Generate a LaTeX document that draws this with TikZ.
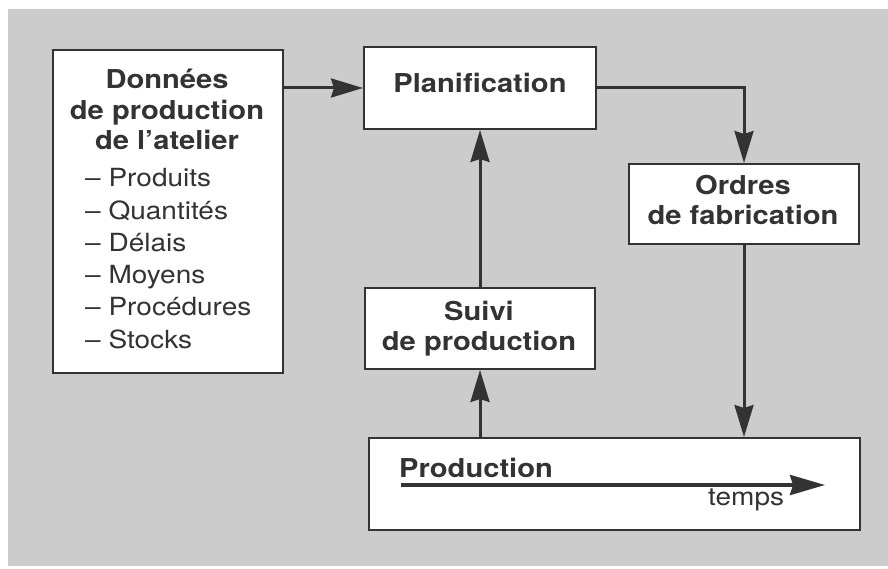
\documentclass[tikz,border=0pt]{standalone}
\usepackage{fontspec}
\setmainfont{TeX Gyre Heros}[FakeStretch=1.12]
\usetikzlibrary{arrows.meta}
\definecolor{ink}{rgb}{0.2,0.2,0.2}
\definecolor{bggrey}{rgb}{0.80,0.80,0.80}
\begin{document}
\begin{tikzpicture}[x=1pt,y=-1pt,
  box/.style={draw=ink, line width=2pt, fill=white, inner sep=0pt, anchor=north west},
  conn/.style={draw=ink, line width=3pt, -{Stealth[length=32pt,width=19pt,inset=3pt]}},
  titletext/.style={font=\fontsize{26}{30}\selectfont\bfseries, text=ink, inner sep=0pt, anchor=base},
  listtext/.style={font=\fontsize{25}{30}\selectfont, text=ink, inner sep=0pt, anchor=base west}]
\useasboundingbox (0,0) rectangle (888,569);
\fill[bggrey] (8,9) rectangle (888,566);
% boxes
\node[box, minimum width=230pt, minimum height=323pt] (data) at (52,49) {};
\node[box, minimum width=232pt, minimum height=82pt] (plan) at (363,46) {};
\node[box, minimum width=230pt, minimum height=80pt] (ordres) at (628,163) {};
\node[box, minimum width=230pt, minimum height=81pt] (suivi) at (364,287) {};
\node[box, minimum width=491pt, minimum height=92pt] (prod) at (368,437) {};
% texts
\node[titletext] (d1) at (167,89) {Données};
\node[titletext] (d2) at (167,120) {de production};
\node[titletext] (d3) at (167,150) {de l’atelier};
\node[listtext] (l1) at (85,187) {– Produits};
\node[listtext] (l2) at (85,219.2) {– Quantités};
\node[listtext] (l3) at (85,251.4) {– Délais};
\node[listtext] (l4) at (85,283.6) {– Moyens};
\node[listtext] (l5) at (85,315.8) {– Procédures};
\node[listtext] (l6) at (85,348) {– Stocks};
\node[titletext] (p1) at (480,93) {Planification};
\node[titletext] (o1) at (743,195) {Ordres};
\node[titletext] (o2) at (743,225) {de fabrication};
\node[titletext] (s1) at (479,320) {Suivi};
\node[titletext] (s2) at (479,350) {de production};
\node[titletext, anchor=base west] (pr) at (399,477) {Production};
\node[listtext] (tm) at (708,505) {temps};
% connectors
\draw[conn] (plan.west -| data.east) -- (plan.west);
\draw[conn] (plan.east) -- (plan.east -| ordres.north) -- (ordres.north);
\draw[conn] (ordres.south) -- (ordres.south |- prod.north);
\draw[conn] (suivi.south |- prod.north) -- (suivi.south);
\draw[conn] (suivi.north) -- (suivi.north |- plan.south);
% time axis
\coordinate (t0) at (401,485);
\coordinate (t1) at (825,485);
\draw[draw=ink, line width=3.5pt, -{Stealth[length=35pt,width=20pt,inset=3pt]}] (t0) -- (t1);
\end{tikzpicture}
\end{document}
